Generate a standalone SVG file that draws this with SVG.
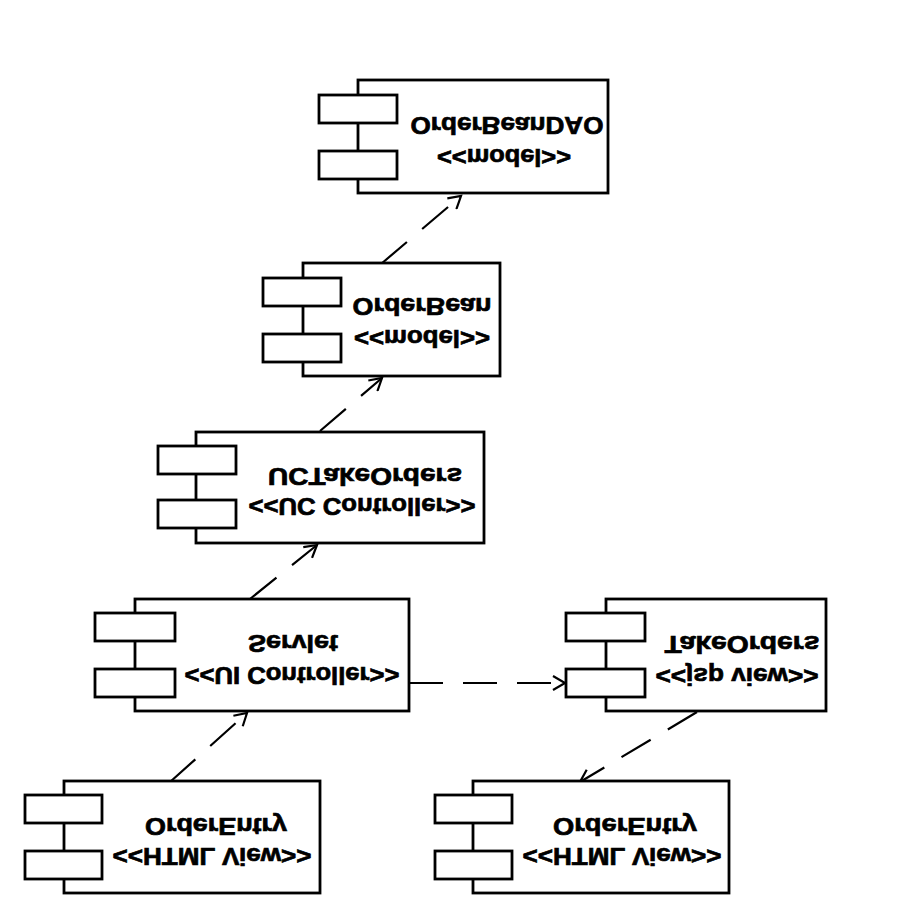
<svg xmlns="http://www.w3.org/2000/svg" width="900" height="900" viewBox="0 0 900 900">
<style>
.box{fill:#fff;stroke:#000;stroke-width:2.8}
.t{font-family:"Liberation Sans",Arial,sans-serif;font-weight:bold;font-size:24px;fill:#000;stroke:#000;stroke-width:0.7;text-anchor:middle}
.c{fill:none;stroke:#000;stroke-width:2.2;stroke-dasharray:34 20}
</style>
<defs>
<marker id="arr" markerUnits="userSpaceOnUse" markerWidth="16" markerHeight="16" refX="13" refY="8" orient="auto">
<path d="M1,1 L13,8 L1,15" fill="none" stroke="#000" stroke-width="2.2"/>
</marker>
</defs>
<rect width="900" height="900" fill="#fff"/>
<g id="connectors">
<line class="c" x1="381" y1="264" x2="461" y2="196" marker-end="url(#arr)"/>
<line class="c" x1="320" y1="431" x2="382" y2="378" marker-end="url(#arr)"/>
<line class="c" x1="250" y1="599" x2="317" y2="545" marker-end="url(#arr)"/>
<line class="c" x1="170" y1="782" x2="247" y2="713" marker-end="url(#arr)"/>
<line class="c" x1="697" y1="712" x2="580" y2="782" marker-end="url(#arr)"/>
<line class="c" x1="409" y1="683" x2="565" y2="683" marker-end="url(#arr)"/>
</g>
<g id="OrderBeanDAO">
<rect class="box" x="358" y="80" width="250" height="113"/>
<rect class="box" x="319" y="95" width="78" height="28"/>
<rect class="box" x="319" y="151" width="78" height="28"/>
<text class="t" transform="translate(507,117) scale(1,-1)" textLength="193" lengthAdjust="spacingAndGlyphs">OrderBeanDAO</text>
<text class="t" transform="translate(504,149) scale(1,-1)" textLength="134" lengthAdjust="spacingAndGlyphs">&lt;&lt;model&gt;&gt;</text>
</g>
<g id="OrderBean">
<rect class="box" x="303" y="263" width="197" height="113"/>
<rect class="box" x="263" y="278" width="78" height="28"/>
<rect class="box" x="263" y="334" width="78" height="28"/>
<text class="t" transform="translate(422,298) scale(1,-1)" textLength="139" lengthAdjust="spacingAndGlyphs">OrderBean</text>
<text class="t" transform="translate(422,330) scale(1,-1)" textLength="136" lengthAdjust="spacingAndGlyphs">&lt;&lt;model&gt;&gt;</text>
</g>
<g id="UCTakeOrders">
<rect class="box" x="196" y="432" width="288" height="111"/>
<rect class="box" x="158" y="446" width="78" height="28"/>
<rect class="box" x="158" y="500" width="78" height="28"/>
<text class="t" transform="translate(365,468) scale(1,-1)" textLength="194" lengthAdjust="spacingAndGlyphs">UCTakeOrders</text>
<text class="t" transform="translate(362,498) scale(1,-1)" textLength="227" lengthAdjust="spacingAndGlyphs">&lt;&lt;UC Controller&gt;&gt;</text>
</g>
<g id="Servlet">
<rect class="box" x="135" y="599" width="274" height="112"/>
<rect class="box" x="95" y="613" width="80" height="28"/>
<rect class="box" x="95" y="669" width="80" height="28"/>
<text class="t" transform="translate(293,635) scale(1,-1)" textLength="90" lengthAdjust="spacingAndGlyphs">Servlet</text>
<text class="t" transform="translate(292,667) scale(1,-1)" textLength="215" lengthAdjust="spacingAndGlyphs">&lt;&lt;UI Controller&gt;&gt;</text>
</g>
<g id="TakeOrders">
<rect class="box" x="606" y="599" width="220" height="112"/>
<rect class="box" x="566" y="613" width="79" height="28"/>
<rect class="box" x="566" y="669" width="79" height="28"/>
<text class="t" transform="translate(742,636) scale(1,-1)" textLength="155" lengthAdjust="spacingAndGlyphs">TakeOrders</text>
<text class="t" transform="translate(737,668) scale(1,-1)" textLength="163" lengthAdjust="spacingAndGlyphs">&lt;&lt;jsp view&gt;&gt;</text>
</g>
<g id="OrderEntry1">
<rect class="box" x="64" y="781" width="256" height="112"/>
<rect class="box" x="25" y="795" width="77" height="28"/>
<rect class="box" x="25" y="851" width="77" height="28"/>
<text class="t" transform="translate(216,818) scale(1,-1)" textLength="142" lengthAdjust="spacingAndGlyphs">OrderEntry</text>
<text class="t" transform="translate(212,848) scale(1,-1)" textLength="199" lengthAdjust="spacingAndGlyphs">&lt;&lt;HTML View&gt;&gt;</text>
</g>
<g id="OrderEntry2">
<rect class="box" x="473" y="781" width="256" height="112"/>
<rect class="box" x="435" y="795" width="77" height="28"/>
<rect class="box" x="435" y="851" width="77" height="28"/>
<text class="t" transform="translate(625,818) scale(1,-1)" textLength="144" lengthAdjust="spacingAndGlyphs">OrderEntry</text>
<text class="t" transform="translate(622,848) scale(1,-1)" textLength="199" lengthAdjust="spacingAndGlyphs">&lt;&lt;HTML View&gt;&gt;</text>
</g>
</svg>
